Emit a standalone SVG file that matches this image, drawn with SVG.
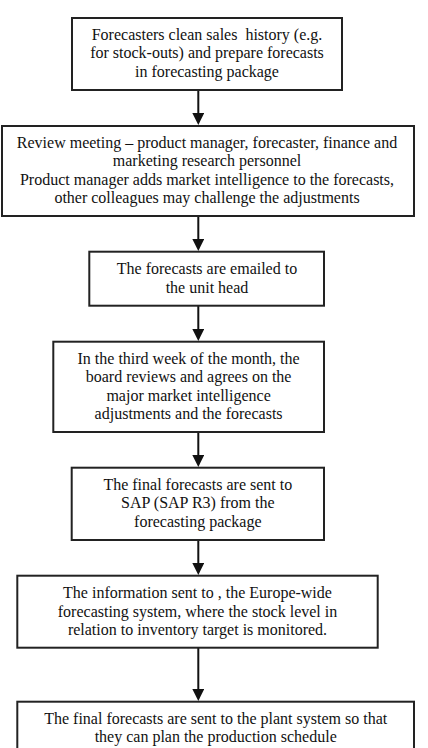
<svg xmlns="http://www.w3.org/2000/svg" width="428" height="748" viewBox="0 0 428 748">
<style>
.box{fill:#fff;stroke:#222;stroke-width:2}
.t{font-family:"Liberation Serif","Times New Roman",serif;font-size:16px;fill:#111;text-anchor:middle}
.c{stroke:#111;stroke-width:2;fill:none}
</style>
<defs>
<marker id="ah" viewBox="0 0 12 12" markerWidth="12" markerHeight="12" refX="6" refY="6" orient="auto" markerUnits="userSpaceOnUse">
<path d="M0,0 L12,6 L0,12 z" fill="#111"/>
</marker>
</defs>
<rect width="428" height="748" fill="#fff"/>
<g id="connectors">
<line class="c" x1="198.3" y1="90" x2="198.3" y2="119" marker-end="url(#ah)"/>
<line class="c" x1="198.3" y1="216" x2="198.3" y2="245" marker-end="url(#ah)"/>
<line class="c" x1="198.3" y1="306" x2="198.3" y2="335" marker-end="url(#ah)"/>
<line class="c" x1="198.3" y1="432" x2="198.3" y2="461" marker-end="url(#ah)"/>
<line class="c" x1="198.3" y1="540" x2="198.3" y2="569" marker-end="url(#ah)"/>
<line class="c" x1="198.3" y1="648" x2="198.3" y2="695" marker-end="url(#ah)"/>
</g>
<g id="n1">
<rect class="box" x="72" y="18" width="270" height="72"/>
<text class="t" x="207" y="40" style="white-space:pre">Forecasters clean sales  history (e.g.</text>
<text class="t" x="207" y="58.3">for stock-outs) and prepare forecasts</text>
<text class="t" x="207" y="76.7">in forecasting package</text>
</g>
<g id="n2">
<rect class="box" x="2" y="126" width="412" height="90"/>
<text class="t" x="207" y="147.7">Review meeting – product manager, forecaster, finance and</text>
<text class="t" x="207" y="166">marketing research personnel</text>
<text class="t" x="207" y="184.5">Product manager adds market intelligence to the forecasts,</text>
<text class="t" x="207" y="203">other colleagues may challenge the adjustments</text>
</g>
<g id="n3">
<rect class="box" x="89.3" y="251.7" width="234.7" height="54"/>
<text class="t" x="207" y="274">The forecasts are emailed to</text>
<text class="t" x="207" y="292.5">the unit head</text>
</g>
<g id="n4">
<rect class="box" x="53.3" y="341.7" width="270.7" height="90.3"/>
<text class="t" x="188.6" y="364">In the third week of the month, the</text>
<text class="t" x="188.6" y="382.3">board reviews and agrees on the</text>
<text class="t" x="188.6" y="400.7">major market intelligence</text>
<text class="t" x="188.6" y="419">adjustments and the forecasts</text>
</g>
<g id="n5">
<rect class="box" x="71.7" y="467.7" width="252.3" height="72.3"/>
<text class="t" x="197.8" y="490">The final forecasts are sent to</text>
<text class="t" x="197.8" y="508.3">SAP (SAP R3) from the</text>
<text class="t" x="197.8" y="526.7">forecasting package</text>
</g>
<g id="n6">
<rect class="box" x="17.3" y="575.7" width="360.4" height="72"/>
<text class="t" x="197.5" y="598.3">The information sent to , the Europe-wide</text>
<text class="t" x="197.5" y="616.7">forecasting system, where the stock level in</text>
<text class="t" x="197.5" y="635">relation to inventory target is monitored.</text>
</g>
<g id="n7">
<rect class="box" x="17.3" y="701.7" width="396.7" height="52"/>
<text class="t" x="215.7" y="724">The final forecasts are sent to the plant system so that</text>
<text class="t" x="215.7" y="742.3">they can plan the production schedule</text>
</g>
</svg>
